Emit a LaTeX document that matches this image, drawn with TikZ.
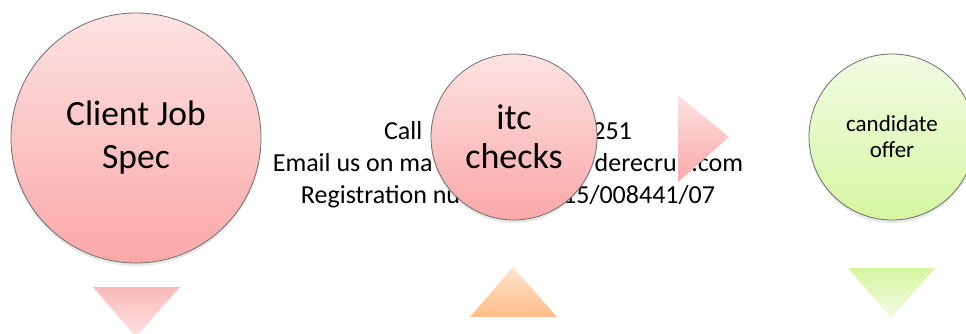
\documentclass[tikz,border=0pt]{standalone}
\usepackage{fontspec}
\setmainfont{Carlito}
\usepackage{tikz}
\usetikzlibrary{positioning}
\usetikzlibrary{shadows}

\definecolor{pinktop}{RGB}{253,226,226}
\definecolor{pinkbot}{RGB}{250,168,168}
\definecolor{greentop}{RGB}{242,252,228}
\definecolor{greenbot}{RGB}{214,246,160}
\definecolor{orangetop}{RGB}{255,228,205}
\definecolor{orangebot}{RGB}{255,188,135}
\definecolor{rimgray}{RGB}{110,110,110}

\begin{document}
\begin{tikzpicture}
                [x=1pt, y=-1pt,
                 bubble/.style = {circle, inner sep=0pt, draw=rimgray, line width=0.8pt, align=center,
                                  top color=pinktop, bottom color=pinkbot,
                                  drop shadow={opacity=0.18, shadow xshift=0pt, shadow yshift=-3pt}},
                 bubbleg/.style = {bubble, top color=greentop, bottom color=greenbot}]
                \useasboundingbox (0,0) rectangle (966,334);
                \clip (0,0) rectangle (966,334);
                \fill[white] (0,0) rectangle (966,334);
                % Contact details behind the middle circle
                \node[align=center, font=\fontsize{26}{32}\selectfont] (contact) at (508,165)
                    {Call\hspace{170pt}251\\
                     Email us on ma\hspace{162pt}derecruit.com\\
                     Registration nu\hspace{103pt}15/008441/07};
                % Circles
                \node[bubble, minimum size=250pt, font=\fontsize{35.5}{43}\selectfont] (client) at (136,138) {Client Job\\Spec};
                \node[bubble, minimum size=166pt, font=\fontsize{36}{39}\selectfont] (itc) at (514,137) {itc\\checks};
                \node[bubbleg, minimum size=166pt, font=\fontsize{23}{26}\selectfont] (offer) at (892,137) {candidate\\offer};
                % Arrow triangles
                \coordinate (clienttip) at (136,337);
                \coordinate (itctip) at (513,267);
                \coordinate (nexttip) at (729,137);
                \coordinate (offertip) at (891,318);
                \shade[top color=pinkbot!80, bottom color=pinktop] (93,287) -- (180,287) -- (clienttip) -- cycle;
                \shade[top color=orangetop, bottom color=orangebot] (itctip) -- (557,317) -- (470,317) -- cycle;
                \shade[top color=pinktop, bottom color=pinkbot] (678,95) -- (nexttip) -- (678,182) -- cycle;
                \shade[top color=greenbot, bottom color=greentop] (848,268) -- (935,268) -- (offertip) -- cycle;
            \end{tikzpicture}
\end{document}
